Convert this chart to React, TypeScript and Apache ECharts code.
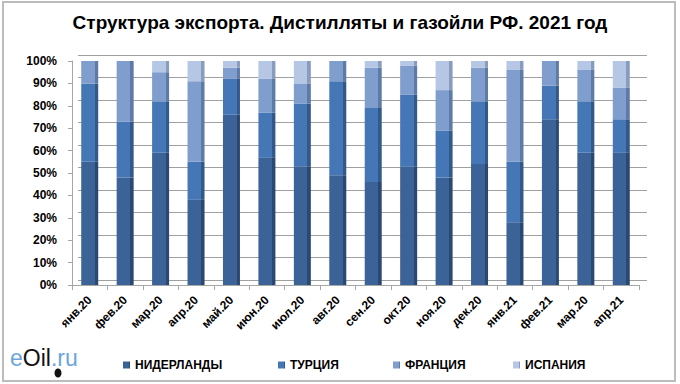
import React, { useEffect, useRef } from "react";
import * as echarts from "echarts";

const categories = ["янв.20", "фев.20", "мар.20", "апр.20", "май.20", "июн.20", "июл.20", "авг.20", "сен.20", "окт.20", "ноя.20", "дек.20", "янв.21", "фев.21", "мар.20", "апр.21"];
const netherlands = [55, 48, 59, 38, 76, 57, 53, 49, 46, 53, 48, 54, 28, 74, 59, 59];
const turkey = [35, 25, 23, 17, 16, 20, 28, 42, 33, 32, 21, 28, 27, 15, 23, 15];
const france = [10, 27, 13, 36, 5, 15, 9, 9, 18, 13, 18, 15, 41, 11, 14, 14];
const spain = [0, 0, 5, 9, 3, 8, 10, 0, 3, 2, 13, 3, 4, 0, 4, 12];
const seriesNames = ["НИДЕРЛАНДЫ", "ТУРЦИЯ", "ФРАНЦИЯ", "ИСПАНИЯ"];
const yTicks = [0, 10, 20, 30, 40, 50, 60, 70, 80, 90, 100];

const FONT = "'Liberation Sans', Arial, sans-serif";
const front = ["#3b6397", "#4577b6", "#7f9dcd", "#b5c7e5"];
const side = ["#2a4872", "#33598a", "#5e7aa6", "#8a9cbd"];

function grad(i: number) {
  return new echarts.graphic.LinearGradient(0, 0, 1, 0, [
    { offset: 0, color: front[i] },
    { offset: 0.8, color: front[i] },
    { offset: 0.8, color: side[i] },
    { offset: 1, color: side[i] },
  ]);
}

export default function App() {
  const ref = useRef<HTMLDivElement>(null);
  useEffect(() => {
    if (!ref.current) return;
    const chart = echarts.init(ref.current, undefined, { renderer: "svg" });
    const data = [netherlands, turkey, france, spain];
    const legendLeft = [118, 273, 388, 508];
    chart.setOption({
      animation: false,
      backgroundColor: "#ffffff",
      textStyle: { fontFamily: FONT },
      title: {
        text: "Структура экспорта. Дистилляты и газойли РФ. 2021 год",
        left: "center",
        top: 8,
        textStyle: { fontFamily: FONT, fontSize: 19, fontWeight: "bold", color: "#000" },
      },
      legend: seriesNames.map((n, i) => ({
        data: [n],
        left: legendLeft[i],
        top: 354,
        icon: "rect",
        itemWidth: 7,
        itemHeight: 7,
        itemGap: 5,
        textStyle: { fontFamily: FONT, fontSize: 12, fontWeight: "bold", color: "#000" },
      })),
      grid: [
        { left: 72, right: 41, top: 61, bottom: 99 },
        { left: 78, right: 33, top: 55, bottom: 104 },
      ],
      xAxis: [
        {
          type: "category",
          gridIndex: 0,
          data: categories,
          axisLine: { show: true, lineStyle: { color: "#a6a6a6", width: 1 } },
          axisTick: { show: true, length: 5, lineStyle: { color: "#a6a6a6" } },
          axisLabel: {
            rotate: 45,
            interval: 0,
            margin: 13,
            fontFamily: FONT,
            fontSize: 12,
            fontWeight: "bold",
            color: "#000",
          },
        },
        { type: "category", gridIndex: 1, data: categories, show: false },
      ],
      yAxis: [
        {
          type: "value",
          gridIndex: 0,
          min: 0,
          max: 100,
          interval: 10,
          axisLine: { show: true, lineStyle: { color: "#a6a6a6" } },
          axisTick: { show: true, length: 4, lineStyle: { color: "#a6a6a6" } },
          splitLine: { show: false },
          axisLabel: {
            formatter: (v: number) => (yTicks.includes(v) ? v + "%" : ""),
            fontFamily: FONT,
            fontSize: 12,
            fontWeight: "bold",
            color: "#000",
            margin: 15,
          },
        },
        {
          type: "value",
          gridIndex: 1,
          min: 0,
          max: 100,
          interval: 10,
          axisLine: { show: false },
          axisTick: { show: false },
          axisLabel: { show: false },
          splitLine: { show: true, lineStyle: { color: "#a0a0a0", width: 1 } },
        },
      ],
      series: seriesNames.map((n, i) => ({
        name: n,
        type: "bar",
        stack: "total",
        xAxisIndex: 0,
        yAxisIndex: 0,
        barWidth: 17,
        data: data[i],
        itemStyle: { color: grad(i) },
        emphasis: { disabled: true },
      })),
      color: front,
      graphic: [
        {
          type: "rect",
          shape: { x: 3, y: 2, width: 672, height: 379 },
          style: { fill: "none", stroke: "#bcbcbc", lineWidth: 2 },
          silent: true,
        },
        {
          type: "text",
          left: 10,
          top: 346,
          style: {
            text: "{a|e}{b|Oil}{a|.ru}",
            rich: {
              a: { fontFamily: FONT, fontSize: 23, fill: "#6aa6dc" },
              b: { fontFamily: FONT, fontSize: 23, fill: "#111" },
            },
          },
        },
        {
          type: "ellipse",
          shape: { cx: 58, cy: 373, rx: 3.5, ry: 4.5 },
          style: { fill: "#111" },
        },
      ],
    });
    return () => chart.dispose();
  }, []);
  return <div ref={ref} style={{ position: "absolute", left: 0, top: 0, width: 680, height: 384 }} />;
}
